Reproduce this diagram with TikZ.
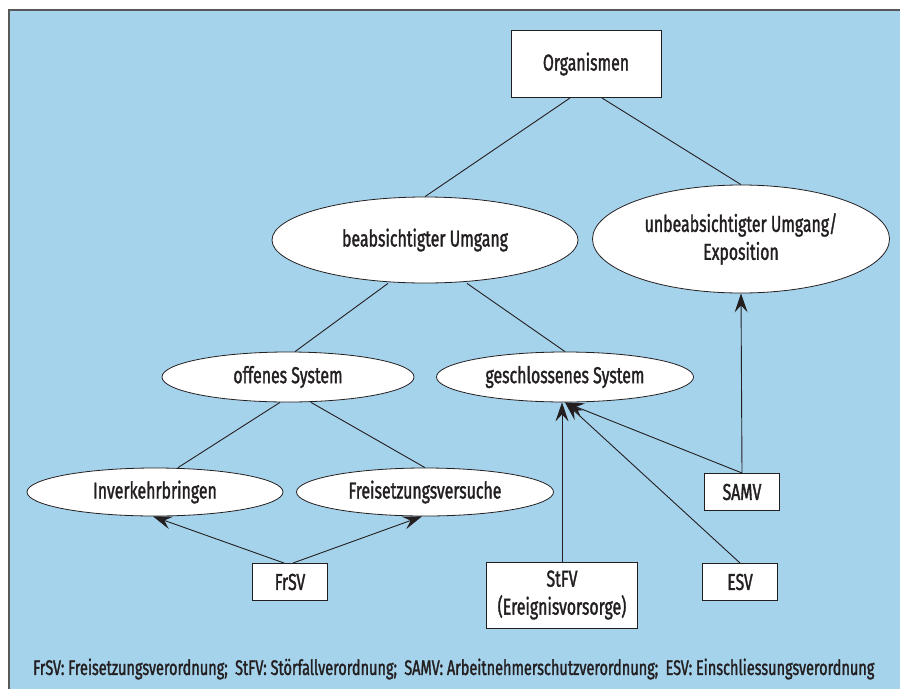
\documentclass[tikz,border=0pt]{standalone}
\usepackage{fontspec}
\setmainfont{Fira Sans}[FakeStretch=0.69,FakeBold=1.4]
\usetikzlibrary{shapes.geometric,arrows.meta}
\definecolor{panelblue}{HTML}{A6D3EC}
\definecolor{inkgray}{HTML}{231F20}

\begin{document}
\begin{tikzpicture}[x=1pt,y=-1pt,
    font=\fontsize{23}{28}\selectfont, text=inkgray,
    oval/.style={ellipse,draw=inkgray,fill=white,inner sep=0pt,line width=0.8pt},
    kasten/.style={rectangle,draw=inkgray,fill=white,inner sep=0pt,line width=1pt,align=center},
    verb/.style={draw=inkgray,line width=0.9pt},
    pfeil/.style={verb,-{Stealth[length=19pt,width=13pt,inset=7pt]}}]

  \useasboundingbox (0,0) rectangle (900,689);
  \fill[panelblue] (9,10) rectangle (900,689);
  \draw[line width=1.5pt,draw=black!65] (9,689) -- (9,10) -- (900,10);

  \node[kasten,minimum width=150pt,minimum height=67pt] (org) at (586,64) {Organismen};

  \node[oval,minimum width=306pt,minimum height=86pt] (beab) at (425,240) {beabsichtigter Umgang};
  \node[oval,minimum width=297pt,minimum height=108pt,align=center] (unbeab) at (741,239)
    {unbeabsichtigter Umgang/\\Exposition};

  \node[oval,minimum width=252pt,minimum height=50pt] (offen) at (288,377) {offenes System};
  \node[oval,minimum width=257pt,minimum height=50pt] (geschl) at (565,377) {geschlossenes System};

  \node[oval,minimum width=256pt,minimum height=48pt] (inverk) at (155,492) {Inverkehrbringen};
  \node[oval,minimum width=257pt,minimum height=48pt] (freis) at (425,492) {Freisetzungsversuche};

  \node[kasten,minimum width=75pt,minimum height=37pt] (samv) at (742,492) {SAMV};
  \node[kasten,minimum width=75pt,minimum height=37pt] (frsv) at (290,582) {FrSV};
  \node[kasten,minimum width=151pt,minimum height=66pt] (stfv) at (562,595) {StFV\\(Ereignisvorsorge)};
  \node[kasten,minimum width=75pt,minimum height=37pt] (esv) at (740,582) {ESV};

  \draw[verb] ([xshift=-16pt]org.south) -- (beab.north);
  \draw[verb] ([xshift=16pt]org.south) -- (unbeab.north);
  \draw[verb] ([xshift=-37pt]beab.south) -- ([xshift=7pt]offen.north);
  \draw[verb] ([xshift=42pt]beab.south) -- (geschl.north);
  \draw[verb] ([xshift=-8pt]offen.south) -- ([xshift=23pt]inverk.north);
  \draw[verb] ([xshift=23pt]offen.south) -- (freis.north);

  \draw[pfeil] ([xshift=-6pt]frsv.north) -- ([xshift=-2pt]inverk.south);
  \draw[pfeil] ([xshift=3pt]frsv.north) -- ([xshift=-3pt]freis.south);
  \draw[pfeil] (stfv.north) -- ([xshift=-3pt]geschl.south);
  \foreach \quelle in {samv,esv}{
    \draw[pfeil] (\quelle.north) -- (geschl.south);
  }
  \draw[pfeil] (samv.north) -- (unbeab.south);

  \node[anchor=west,inner sep=0pt,font=\fontsize{21}{27}\selectfont] (legende) at (33,669)
    {FrSV: Freisetzungsverordnung;\, StFV: Störfallverordnung;\, SAMV: Arbeitnehmerschutzverordnung;\, ESV: Einschliessungsverordnung};
\end{tikzpicture}
\end{document}
